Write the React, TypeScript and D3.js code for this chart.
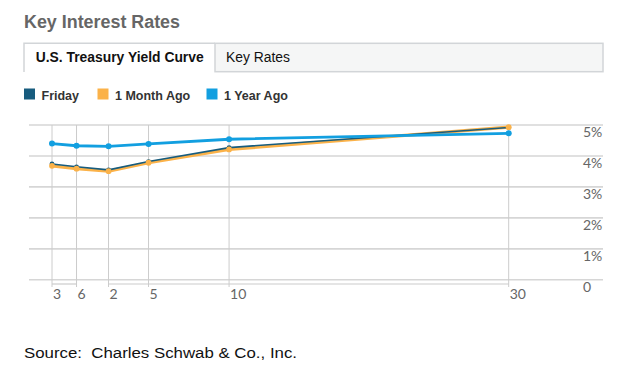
import React from "react";
import * as d3 from "d3";

const tenorYears = [0.25, 0.5, 2, 5, 10, 30];
const tenorLabels = ["3", "6", "2", "5", "10", "30"];
const fridayRates = [3.74, 3.65, 3.55, 3.82, 4.27, 4.92];
const monthAgoRates = [3.68, 3.59, 3.51, 3.78, 4.21, 4.93];
const yearAgoRates = [4.4, 4.33, 4.31, 4.39, 4.54, 4.73];
const yTicks = [0, 1, 2, 3, 4, 5];
const yTickLabels = ["0", "1%", "2%", "3%", "4%", "5%"];
const legendNames = ["Friday", "1 Month Ago", "1 Year Ago"];
const colors = ["#175c7e", "#fbb249", "#129fe0"];

const W = 629;
const H = 384;
const gridLeft = 29;
const gridRight = 603;
// piecewise axis layout (chart uses uneven tenor spacing)
const tenorFrac = [0, 0.0537, 0.1238, 0.2114, 0.3877, 1];
const xStart = 52;
const xEnd = 508.7;

export default function App() {
  const x = d3
    .scaleLinear()
    .domain(tenorYears)
    .range(tenorFrac.map((f) => xStart + f * (xEnd - xStart)));
  const y = d3.scaleLinear().domain([0, 5]).range([279.8, 125]);

  const line = d3
    .line<number>()
    .x((_, i) => x(tenorYears[i]))
    .y((d) => y(d));

  const lineSeries = [
    { vals: monthAgoRates, color: colors[1], w: 3.2 },
    { vals: fridayRates, color: colors[0], w: 1.6 },
    { vals: yearAgoRates, color: colors[2], w: 2.8 },
  ];
  const dotSeries = [
    { vals: fridayRates, color: colors[0], r: 2.4 },
    { vals: monthAgoRates, color: colors[1], r: 2.9 },
    { vals: yearAgoRates, color: colors[2], r: 3 },
  ];

  const legendX = [24, 97.5, 206.5];
  const axisFont = "Lato, 'Open Sans', sans-serif";

  return (
    <svg
      width={W}
      height={H}
      style={{ position: "absolute", left: 0, top: 0, background: "#fff" }}
    >
      <rect width={W} height={H} fill="#fff" />
      {/* title */}
      <text
        x={24}
        y={27.5}
        fontFamily="'Liberation Sans', Arial, sans-serif"
        fontWeight="bold"
        fontSize={17.5}
        fill="#666"
        textLength={156}
        lengthAdjust="spacingAndGlyphs"
      >
        Key Interest Rates
      </text>

      {/* tabs */}
      <rect x={215} y={43.3} width={388} height={28.4} fill="#f5f6f6" stroke="#d2d5d8" strokeWidth={1.5} />
      <path d="M24,72 V43.3 H215" fill="#fff" stroke="#d2d5d8" strokeWidth={1.5} />
      <text
        x={35.7}
        y={62}
        fontFamily="'Liberation Sans', Arial, sans-serif"
        fontWeight="bold"
        fontSize={14}
        fill="#111"
        textLength={168}
        lengthAdjust="spacingAndGlyphs"
      >
        U.S. Treasury Yield Curve
      </text>
      <text
        x={226}
        y={62}
        fontFamily="'Liberation Sans', Arial, sans-serif"
        fontSize={14}
        fill="#111"
        textLength={64}
        lengthAdjust="spacingAndGlyphs"
      >
        Key Rates
      </text>

      {/* legend */}
      {legendNames.map((n, i) => (
        <g key={n}>
          <rect x={legendX[i]} y={88.5} width={11} height={11} fill={colors[i]} />
          <text
            x={legendX[i] + 17.5}
            y={99.5}
            fontFamily="'Liberation Sans', Arial, sans-serif"
            fontWeight="bold"
            fontSize={12.5}
            fill="#333"
          >
            {n}
          </text>
        </g>
      ))}

      {/* horizontal grid */}
      {yTicks.map((t, i) => (
        <g key={t}>
          <line x1={gridLeft} x2={gridRight} y1={y(t)} y2={y(t)} stroke="#d6d6d6" strokeWidth={1.6} />
          <text x={583} y={y(t) + 12} fontFamily={axisFont} fontSize={14} fill="#666">
            {yTickLabels[i]}
          </text>
        </g>
      ))}

      {/* vertical tenor lines */}
      {tenorYears.map((t, i) => (
        <g key={t}>
          <line x1={x(t)} x2={x(t)} y1={y(5)} y2={287} stroke="#cccccc" strokeWidth={1} />
          <text x={x(t) + 1} y={298.5} fontFamily={axisFont} fontSize={14} fill="#666">
            {tenorLabels[i]}
          </text>
        </g>
      ))}
      {/* brackets: months and years */}
      <line x1={x(tenorYears[0])} x2={x(tenorYears[1])} y1={284} y2={284} stroke="#cccccc" strokeWidth={1.2} />
      <line x1={x(tenorYears[2])} x2={x(tenorYears[5])} y1={284} y2={284} stroke="#cccccc" strokeWidth={1.2} />

      {/* series lines */}
      {lineSeries.map((s, k) => (
        <path key={k} d={line(s.vals) || ""} fill="none" stroke={s.color} strokeWidth={s.w} strokeLinejoin="round" />
      ))}
      {/* series points */}
      {dotSeries.map((s, k) => (
        <g key={k}>
          {s.vals.map((v, i) => (
            <circle key={i} cx={x(tenorYears[i])} cy={y(v)} r={s.r} fill={s.color} />
          ))}
        </g>
      ))}

      {/* source */}
      <text
        x={24}
        y={358}
        fontFamily="'Liberation Sans', Arial, sans-serif"
        fontSize={15.5}
        fill="#111"
        textLength={273}
        lengthAdjust="spacingAndGlyphs"
        style={{ whiteSpace: "pre" }}
      >
        {"Source:  Charles Schwab & Co., Inc."}
      </text>
    </svg>
  );
}
